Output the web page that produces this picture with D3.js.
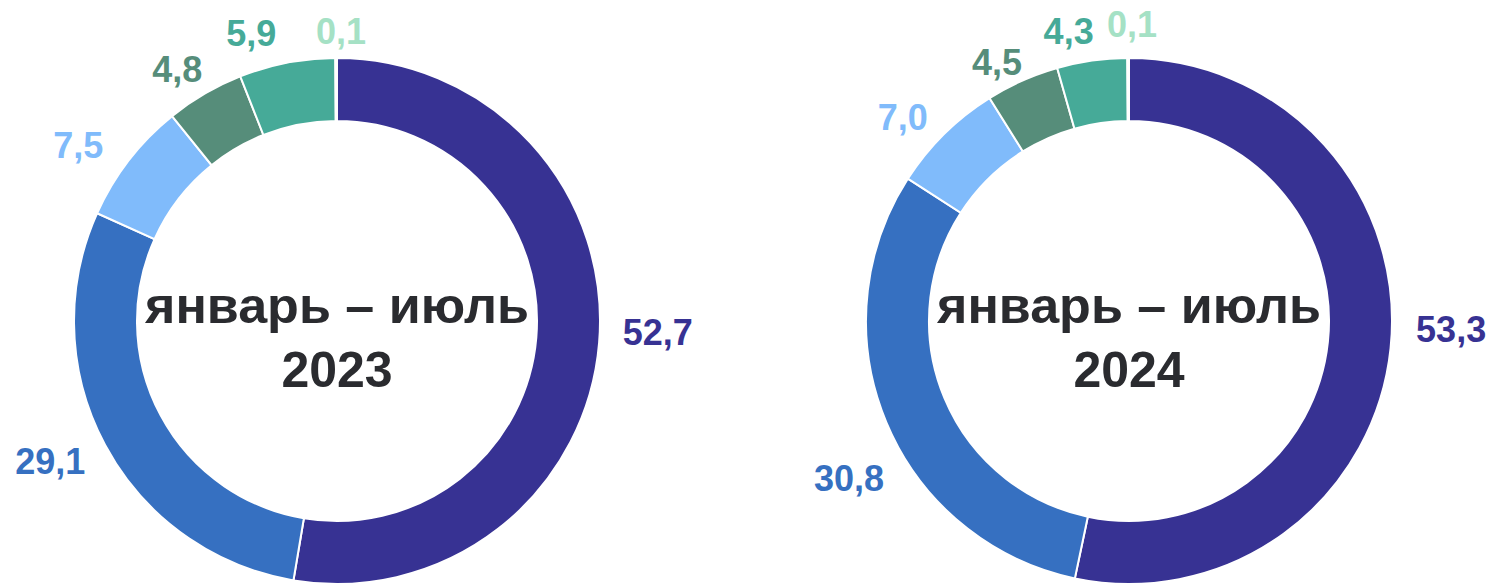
<!DOCTYPE html>
<html>
<head>
<meta charset="utf-8">
<script src="https://cdn.jsdelivr.net/npm/d3@7"></script>
<style>
  body { margin: 0; background: #fff; }
  svg text { font-family: "Liberation Sans", Arial, sans-serif; font-weight: bold; }
</style>
</head>
<body>
<div id="chart"></div>
<script>
// shares, % (clockwise from 12 o'clock)
let categories = ["c1", "c2", "c3", "c4", "c5", "c6"];
let values2023 = [52.7, 29.1, 7.5, 4.8, 5.9, 0.1];
let values2024 = [53.3, 30.8, 7.0, 4.5, 4.3, 0.1];
let titles = [["январь – июль", "2023"], ["январь – июль", "2024"]];
let colors = ["#373293", "#3670c1", "#80bbfb", "#568d7a", "#46aa98", "#a5e1c5"];

// label tweaks (Excel moves a few labels to avoid overlap)
let labelNudge2023 = [[4, -13], [-10, 4], [-19, 2], [-11, 2], [-31, 2], [5, 6]];
let labelNudge2024 = [[6, -21], [11, 46], [-15, 4], [-13, 11], [-20, 3], [4, -1]];

let width = 1493, height = 587;
let outerR = 263, innerR = 200;

let svg = d3.select("#chart").append("svg")
    .attr("width", width)
    .attr("height", height);

let pie = d3.pie().sort(null).value(d => d);
let arc = d3.arc().innerRadius(innerR).outerRadius(outerR);

let fmt = v => d3.format(".1f")(v).replace(".", ",");

function donut(values, nudge, title, cx, cy) {
    let g = svg.append("g")
        .attr("transform", "translate(" + cx + "," + cy + ")");

    let arcs = pie(values);

    g.selectAll(".slice")
        .data(arcs)
        .enter().append("path")
        .attr("class", "slice")
        .attr("d", arc)
        .attr("fill", (d, i) => colors[i])
        .attr("stroke", "#fff")
        .attr("stroke-width", 2);

    g.selectAll(".lbl")
        .data(arcs)
        .enter().append("text")
        .attr("class", "lbl")
        .attr("text-anchor", "middle")
        .attr("dy", "0.36em")
        .style("font-size", "36px")
        .attr("fill", (d, i) => colors[i])
        .text(d => fmt(d.data))
        .each(function(d, i) {
            let a = (d.startAngle + d.endAngle) / 2;
            let w = this.getComputedTextLength();
            let r = outerR + 20;
            let x = Math.sin(a) * (r + w / 2 * Math.abs(Math.sin(a))) + nudge[i][0];
            let y = -Math.cos(a) * (r + 13 * Math.abs(Math.cos(a))) + nudge[i][1];
            d3.select(this).attr("x", x).attr("y", y);
        });

    g.selectAll(".title")
        .data(title)
        .enter().append("text")
        .attr("class", "title")
        .attr("text-anchor", "middle")
        .attr("y", (d, i) => 2 + i * 64)
        .style("font-size", "50px")
        .attr("fill", "#2a2b2f")
        .text(d => d)
        .filter((d, i) => i === 0)
        .attr("textLength", 384)
        .attr("lengthAdjust", "spacingAndGlyphs");
}

donut(values2023, labelNudge2023, titles[0], 337, 321);
donut(values2024, labelNudge2024, titles[1], 1129, 321);
</script>
</body>
</html>
